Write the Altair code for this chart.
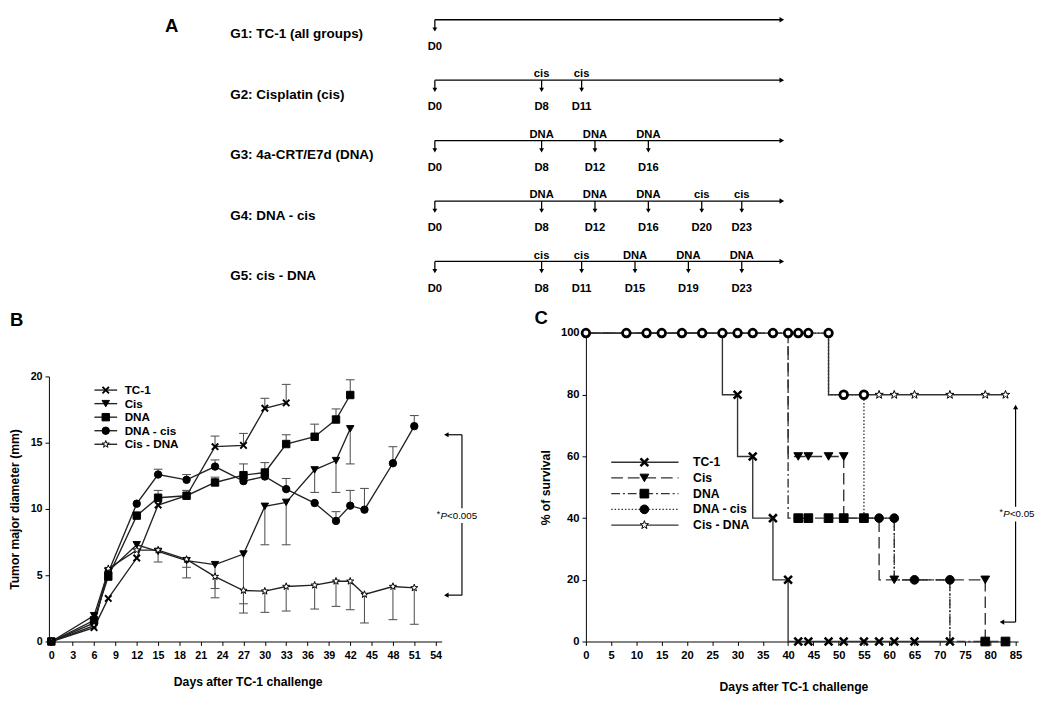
import altair as alt
import pandas as pd

FONT = "Liberation Sans"

series = ["TC-1", "Cis", "DNA", "DNA - cis", "Cis - DNA"]

# ---------------- Panel A : treatment schedule ----------------
a_groups = ["G1: TC-1 (all groups)", "G2: Cisplatin (cis)", "G3: 4a-CRT/E7d (DNA)",
            "G4: DNA - cis", "G5: cis - DNA"]
a_row = [0, 1, 1, 1, 2, 2, 2, 2, 3, 3, 3, 3, 3, 3, 4, 4, 4, 4, 4, 4]
a_day = [0, 0, 8, 11, 0, 8, 12, 16, 0, 8, 12, 16, 20, 23, 0, 8, 11, 15, 19, 23]
a_treat = ["", "", "cis", "cis", "", "DNA", "DNA", "DNA", "", "DNA", "DNA", "DNA", "cis", "cis",
           "", "cis", "cis", "DNA", "DNA", "DNA"]
a_end_day = 26

# ---------------- Panel B : tumour major diameter (mm) ----------------
b_days = {
    "TC-1": [0, 6, 8, 12, 15, 19, 23, 27, 30, 33],
    "Cis": [0, 6, 8, 12, 15, 19, 23, 27, 30, 33, 37, 40, 42],
    "DNA": [0, 6, 8, 12, 15, 19, 23, 27, 30, 33, 37, 40, 42],
    "DNA - cis": [0, 6, 8, 12, 15, 19, 23, 27, 30, 33, 37, 40, 42, 44, 48, 51],
    "Cis - DNA": [0, 6, 8, 12, 15, 19, 23, 27, 30, 33, 37, 40, 42, 44, 48, 51],
}
b_vals = {
    "TC-1": [0, 1.05, 3.25, 6.3, 10.3, 11.0, 14.7, 14.8, 17.6, 18.0],
    "Cis": [0, 1.95, 5.3, 7.3, 6.8, 6.1, 5.8, 6.6, 10.2, 10.5, 12.95, 13.65, 16.05],
    "DNA": [0, 1.6, 4.9, 9.5, 10.85, 11.0, 12.0, 12.55, 12.75, 14.9, 15.45, 16.75, 18.6],
    "DNA - cis": [0, 1.4, 5.2, 10.4, 12.6, 12.2, 13.2, 12.1, 12.45, 11.5, 10.45, 9.1, 10.25, 9.95, 13.45, 16.25],
    "Cis - DNA": [0, 1.2, 5.5, 6.9, 6.9, 6.2, 4.9, 3.85, 3.8, 4.15, 4.25, 4.55, 4.55, 3.55, 4.15, 4.05],
}
# end of the (one-sided) error bar, None = no bar visible
b_err = {
    "TC-1": [None, None, None, None, None, 11.4, 15.5, 15.7, 18.35, 19.4],
    "Cis": [None, None, None, None, None, 5.6, 4.0, 2.15, 7.3, 7.3, 11.25, 11.25, 13.4],
    "DNA": [None, None, None, None, 11.4, None, 12.4, 13.4, 13.5, 15.6, 16.4, 17.55, 19.75],
    "DNA - cis": [None, None, None, None, 13.0, 12.6, 13.7, None, None, 12.3, None, 9.8, 11.4, 11.55, 14.7, 17.05],
    "Cis - DNA": [None, None, None, None, 6.0, 4.8, 3.3, 2.85, 2.2, 2.3, 2.45, 2.65, 2.4, 1.4, 1.65, 1.3],
}
b_p_text = "<0.005"
b_bracket = {"x": 57.7, "lo": 3.5, "hi": 15.6, "tip": 55.5, "tx": 57.0, "ty": 9.5}

# ---------------- Panel C : survival (%) ----------------
c_steps_t = {
    "TC-1": [0, 27, 30, 33, 37, 40, 72],
    "Cis": [0, 40, 51, 58, 79],
    "DNA": [0, 40, 61, 72, 83],
    "DNA - cis": [0, 48, 55, 61, 72],
    "Cis - DNA": [0, 48, 83],
}
c_steps_s = {
    "TC-1": [100, 80, 60, 40, 20, 0, 0],
    "Cis": [100, 60, 40, 20, 0],
    "DNA": [100, 40, 20, 0, 0],
    "DNA - cis": [100, 80, 40, 20, 0],
    "Cis - DNA": [100, 80, 80],
}
c_mark_t = {
    "TC-1": [30, 33, 37, 40, 42, 44, 48, 51, 55, 58, 61, 65, 72],
    "Cis": [42, 44, 48, 51, 61, 79],
    "DNA": [42, 44, 48, 51, 55, 79, 83],
    "DNA - cis": [58, 61, 65, 72],
    "Cis - DNA": [58, 61, 65, 72, 79, 83],
}
c_mark_s = {
    "TC-1": [80, 60, 40, 20, 0, 0, 0, 0, 0, 0, 0, 0, 0],
    "Cis": [60, 60, 60, 60, 20, 20],
    "DNA": [40, 40, 40, 40, 40, 0, 0],
    "DNA - cis": [40, 40, 20, 20],
    "Cis - DNA": [80, 80, 80, 80, 80, 80],
}
# days where several groups' markers coincide (drawn as rings)
c_ring_t = [0, 8, 12, 15, 19, 23, 27, 30, 33, 37, 40, 42, 44, 48, 51, 55]
c_ring_s = [100] * 14 + [80, 80]
c_p_text = "<0.05"
c_bracket = {"x": 85.0, "lo": 6.3, "hi": 76.0, "tip": 82.3, "tx": 85.3, "ty": 41.3}

# ---------------- helpers ----------------
X_PATH = "M-1,-1L1,1M-1,1L1,-1"
STAR_PATH = ("M0,-1L0.235,-0.324L0.951,-0.309L0.38,0.124L0.588,0.809L0,0.4L-0.588,0.809"
             "L-0.38,0.124L-0.951,-0.309L-0.235,-0.324Z")
BOX_PATH = "M-1,-0.3H1V0.3H-1Z"

shape_scale = alt.Scale(domain=series, range=[X_PATH, "triangle-down", "square", "circle", STAR_PATH])
fill_scale = alt.Scale(domain=series, range=["black", "black", "black", "black", "white"])
dash_scale = alt.Scale(domain=series, range=[[1, 0], [12, 5], [9, 3, 2, 3], [1.5, 2], [1, 0]])

axis_common = dict(grid=False, domainColor="black", tickColor="black", labelColor="black",
                   titleColor="black", labelFont=FONT, titleFont=FONT, labelFontWeight="bold",
                   titleFontWeight="bold", labelFlush=False, labelOverlap=False)


def point_layers(df, xenc, yenc, size, xsize, xsw):
    base = alt.Chart(df)
    others = base.transform_filter(alt.datum.series != "TC-1").mark_point(
        filled=True, opacity=1, stroke="black", strokeWidth=1, size=size
    ).encode(x=xenc, y=yenc,
             shape=alt.Shape("series:N", scale=shape_scale, legend=None),
             fill=alt.Fill("series:N", scale=fill_scale, legend=None))
    crosses = base.transform_filter(alt.datum.series == "TC-1").mark_point(
        filled=False, opacity=1, stroke="black", strokeWidth=xsw, size=xsize
    ).encode(x=xenc, y=yenc, shape=alt.Shape("series:N", scale=shape_scale, legend=None))
    return [others, crosses]


def p_text(df, xenc, yenc, rest, offs):
    base = alt.Chart(df)
    box = base.mark_point(shape=BOX_PATH, filled=True, fill="white", stroke=None, opacity=1,
                          size=2600).encode(x=xenc, y=yenc)
    star = base.mark_text(text="*", align="left", baseline="middle", fontSize=9, dx=offs[0], dy=-2,
                          font=FONT, color="black").encode(x=xenc, y=yenc)
    pp = base.mark_text(text="P", align="left", baseline="middle", fontSize=10, fontStyle="italic",
                        dx=offs[1], font=FONT, color="black").encode(x=xenc, y=yenc)
    rr = base.mark_text(text=rest, align="left", baseline="middle", fontSize=10, dx=offs[2],
                        font=FONT, color="black").encode(x=xenc, y=yenc)
    return [box, star, pp, rr]


# ---------------- Panel A chart ----------------
sA_x = alt.Scale(domain=[0, 26], range=[438, 794], nice=False, zero=False)
sA_y = alt.Scale(domain=[0, 4], range=[2, 250], nice=False, zero=False)
a_rows_df = pd.DataFrame({"row": list(range(5)), "group": a_groups, "start": 0, "end": a_end_day})
a_ev_df = pd.DataFrame({"row": a_row, "day": a_day, "treat": a_treat,
                        "dlabel": ["D%d" % d for d in a_day]})
a_lab_df = a_ev_df[a_ev_df["treat"] != ""]
yA = alt.Y("row:Q", scale=sA_y, axis=None)

panelA = alt.layer(
    alt.Chart(a_rows_df).mark_rule(color="black", strokeWidth=1.3).encode(
        x=alt.X("start:Q", scale=sA_x, axis=None), x2="end:Q", y=yA),
    alt.Chart(a_rows_df).mark_point(shape="triangle-right", filled=True, color="black", opacity=1,
                                    size=30).encode(x=alt.X("end:Q", scale=sA_x, axis=None), y=yA),
    alt.Chart(a_ev_df).mark_rule(color="black", strokeWidth=1.3, y2Offset=10).encode(
        x=alt.X("day:Q", scale=sA_x, axis=None), y=yA, y2="row:Q"),
    alt.Chart(a_ev_df).mark_point(shape="triangle-down", filled=True, color="black", opacity=1,
                                  size=24, yOffset=10).encode(x=alt.X("day:Q", scale=sA_x, axis=None), y=yA),
    alt.Chart(a_lab_df).mark_text(baseline="alphabetic", dy=-3, fontSize=11.5, fontWeight="bold",
                                  font=FONT, color="black").encode(
        x=alt.X("day:Q", scale=sA_x, axis=None), y=yA, text="treat:N"),
    alt.Chart(a_ev_df).mark_text(baseline="middle", dy=28, fontSize=11.5, fontWeight="bold",
                                 font=FONT, color="black").encode(
        x=alt.X("day:Q", scale=sA_x, axis=None), y=yA, text="dlabel:N"),
    alt.Chart(a_rows_df).mark_text(align="left", baseline="middle", dy=15, fontSize=13.8,
                                   fontWeight="bold", font=FONT, color="black").encode(
        x=alt.value(228), y=yA, text="group:N"),
)

# ---------------- Panel B chart ----------------
sB_x = alt.Scale(domain=[-0.34, 54.85], range=[42, 445], nice=False, zero=False)
sB_y = alt.Scale(domain=[0, 20], range=[640, 368], nice=False, zero=False)
axB_x = alt.Axis(orient="bottom", values=list(range(0, 55, 3)), title="Days after TC-1 challenge",
                 tickSize=4, labelPadding=4, labelFontSize=11, titleFontSize=12.5, titlePadding=16,
                 titleX=246, **axis_common)
axB_y = alt.Axis(orient="left", offset=-42, values=[0, 5, 10, 15, 20], title="Tumor major diameter (mm)",
                 tickSize=4, labelPadding=3, labelFontSize=11, titleFontSize=12.5, titlePadding=9,
                 **axis_common)

rows = []
for s in series:
    for d, v, e in zip(b_days[s], b_vals[s], b_err[s]):
        rows.append({"series": s, "day": d, "val": v, "err": e})
b_df = pd.DataFrame(rows)
b_err_df = b_df.dropna(subset=["err"])

xB = lambda f: alt.X(f, scale=sB_x, axis=axB_x)
yB = lambda f: alt.Y(f, scale=sB_y, axis=axB_y)

bb = b_bracket
b_vert_df = pd.DataFrame([{"x": bb["x"], "lo": bb["lo"], "hi": bb["hi"]}])
b_hor_df = pd.DataFrame([{"x": bb["x"], "tip": bb["tip"], "y": bb["hi"]},
                         {"x": bb["x"], "tip": bb["tip"], "y": bb["lo"]}])
b_txt_df = pd.DataFrame([{"tx": bb["tx"], "ty": bb["ty"]}])

panelB = alt.layer(
    alt.Chart(b_err_df).mark_rule(color="#555", strokeWidth=1.1).encode(x=xB("day:Q"), y=yB("val:Q"), y2="err:Q"),
    alt.Chart(b_err_df).mark_tick(orient="horizontal", size=9, thickness=1.1, color="#555", opacity=1).encode(
        x=xB("day:Q"), y=yB("err:Q")),
    alt.Chart(b_df).mark_line(color="#222", strokeWidth=1.4).encode(
        x=xB("day:Q"), y=yB("val:Q"), detail="series:N"),
    *point_layers(b_df, xB("day:Q"), yB("val:Q"), 58, 44, 2.0),
    alt.Chart(b_vert_df).mark_rule(color="black", strokeWidth=1.2).encode(x=xB("x:Q"), y=yB("lo:Q"), y2="hi:Q"),
    alt.Chart(b_hor_df).mark_rule(color="black", strokeWidth=1.2).encode(x=xB("tip:Q"), x2="x:Q", y=yB("y:Q")),
    alt.Chart(b_hor_df).mark_point(shape="triangle-left", filled=True, color="black", opacity=1, size=28).encode(
        x=xB("tip:Q"), y=yB("y:Q")),
    *p_text(b_txt_df, xB("tx:Q"), yB("ty:Q"), b_p_text, (-20.8, -16.9, -10.2)),
)

legB_df = pd.DataFrame({"series": series, "row": list(range(5))})
sLB_y = alt.Scale(domain=[0, 4], range=[382, 437.6], nice=False, zero=False)
yLB = alt.Y("row:Q", scale=sLB_y, axis=None)
legendB = alt.layer(
    alt.Chart(legB_df).mark_rule(color="#222", strokeWidth=1.4).encode(
        x=alt.value(88.7), x2=alt.value(112), y=yLB),
    *point_layers(legB_df, alt.value(100.3), yLB, 58, 44, 2.0),
    alt.Chart(legB_df).mark_text(align="left", baseline="middle", fontSize=12, fontWeight="bold",
                                 font=FONT, color="black").encode(x=alt.value(119.7), y=yLB, text="series:N"),
)

# ---------------- Panel C chart ----------------
CX0 = 593  # x-pixel (in view) of day 0
sC_x = alt.Scale(domain=[0, 85.5], range=[CX0, CX0 + 443.5], nice=False, zero=False)
sC_y = alt.Scale(domain=[0, 100], range=[640, 323.5], nice=False, zero=False)
axC_x = alt.Axis(orient="bottom", values=list(range(0, 90, 5)), title="Days after TC-1 challenge",
                 tickSize=4, labelPadding=4, labelFontSize=11.5, titleFontSize=12.5, titlePadding=21,
                 titleX=806, **axis_common)
axC_y = alt.Axis(orient="left", offset=-CX0, values=[0, 20, 40, 60, 80, 100], title="% of survival",
                 tickSize=4, labelPadding=3, labelFontSize=11.5, titleFontSize=12.5, titlePadding=8,
                 **axis_common)
xC = lambda f: alt.X(f, scale=sC_x, axis=axC_x)
yC = lambda f: alt.Y(f, scale=sC_y, axis=axC_y)

c_line_df = pd.DataFrame([{"series": s, "t": t, "s": v} for s in series
                          for t, v in zip(c_steps_t[s], c_steps_s[s])])
c_mark_df = pd.DataFrame([{"series": s, "t": t, "s": v} for s in series
                          for t, v in zip(c_mark_t[s], c_mark_s[s])])
c_ring_df = pd.DataFrame({"t": c_ring_t, "s": c_ring_s})

cb = c_bracket
c_vert_df = pd.DataFrame([{"x": cb["x"], "lo": cb["lo"], "hi": cb["hi"]}])
c_hor_df = pd.DataFrame([{"x": cb["x"], "tip": cb["tip"], "y": cb["lo"]}])
c_txt_df = pd.DataFrame([{"tx": cb["tx"], "ty": cb["ty"]}])

panelC = alt.layer(
    alt.Chart(c_line_df).mark_line(interpolate="step-after", color="#333", strokeWidth=1.4).encode(
        x=xC("t:Q"), y=yC("s:Q"), detail="series:N",
        strokeDash=alt.StrokeDash("series:N", scale=dash_scale, legend=None)),
    *point_layers(c_mark_df, xC("t:Q"), yC("s:Q"), 80, 64, 2.6),
    alt.Chart(c_ring_df).mark_point(shape="circle", filled=True, fill="white", stroke="black",
                                    strokeWidth=2.8, opacity=1, size=62).encode(x=xC("t:Q"), y=yC("s:Q")),
    alt.Chart(c_vert_df).mark_rule(color="black", strokeWidth=1.2).encode(x=xC("x:Q"), y=yC("lo:Q"), y2="hi:Q"),
    alt.Chart(c_vert_df).mark_point(shape="triangle-up", filled=True, color="black", opacity=1, size=28).encode(
        x=xC("x:Q"), y=yC("hi:Q")),
    alt.Chart(c_hor_df).mark_rule(color="black", strokeWidth=1.2).encode(x=xC("tip:Q"), x2="x:Q", y=yC("y:Q")),
    alt.Chart(c_hor_df).mark_point(shape="triangle-left", filled=True, color="black", opacity=1, size=28).encode(
        x=xC("tip:Q"), y=yC("y:Q")),
    *p_text(c_txt_df, xC("tx:Q"), yC("ty:Q"), c_p_text, (-18.0, -14.1, -7.4)),
)

legC_df = pd.DataFrame({"series": series, "row": list(range(5))})
sLC_y = alt.Scale(domain=[0, 4], range=[456, 520.5], nice=False, zero=False)
yLC = alt.Y("row:Q", scale=sLC_y, axis=None)
legendC = alt.layer(
    alt.Chart(legC_df).mark_rule(color="#333", strokeWidth=1.4).encode(
        x=alt.value(619), x2=alt.value(688), y=yLC,
        strokeDash=alt.StrokeDash("series:N", scale=dash_scale, legend=None)),
    *point_layers(legC_df, alt.value(653), yLC, 80, 64, 2.6),
    alt.Chart(legC_df).mark_text(align="left", baseline="middle", fontSize=12.5, fontWeight="bold",
                                 font=FONT, color="black").encode(x=alt.value(703), y=yLC, text="series:N"),
)

# ---------------- panel letters ----------------
def letter(t, x, y, align):
    return alt.Chart(pd.DataFrame({"t": [t]})).mark_text(
        align=align, baseline="middle", fontSize=19, fontWeight="bold", font=FONT, color="black"
    ).encode(x=alt.value(x), y=alt.value(y), text="t:N")

letters = alt.layer(letter("A", 168, 9, "center"), letter("B", 2, 310, "left"),
                    letter("C", 547, 308, "center"))

chart = alt.layer(panelA, panelB, legendB, panelC, legendC, letters).resolve_scale(
    x="independent", y="independent"
).properties(width=1034, height=640, padding=0).configure(font=FONT).configure_view(stroke=None)

chart.save("out.html", embed_options={"renderer": "svg", "actions": False})
